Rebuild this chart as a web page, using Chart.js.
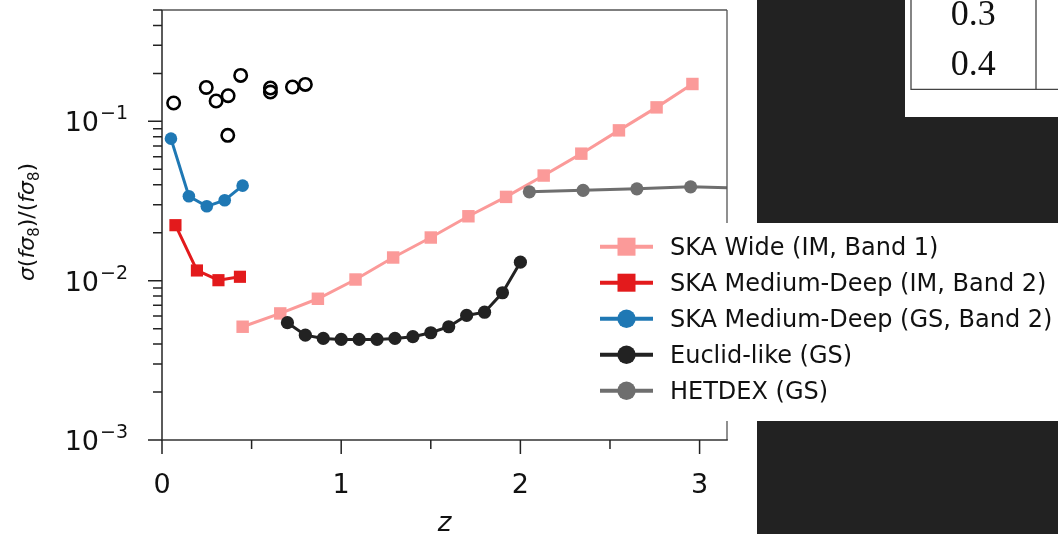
<!DOCTYPE html>
<html>
<head>
<meta charset="utf-8">
<script src="https://cdn.jsdelivr.net/npm/chart.js@4.4.1/dist/chart.umd.min.js"></script>
<style>
  html, body { margin: 0; padding: 0; background: #ffffff; overflow: hidden; }
  #wrap { position: relative; width: 1058px; height: 534px; }
  canvas { display: block; }
</style>
</head>
<body>
<div id="wrap"><canvas id="c" width="1058" height="534"></canvas></div>
<script>
// Forecast fractional errors on f*sigma8 per redshift bin
const skaWideZ   = [0.45, 0.66, 0.87, 1.08, 1.29, 1.50, 1.71, 1.92, 2.13, 2.34, 2.55, 2.76, 2.96];
const skaWideErr = [0.00514, 0.00623, 0.00770, 0.01017, 0.01398, 0.01866, 0.02537, 0.03357, 0.0457, 0.0627, 0.0878, 0.1224, 0.1716];

const skaMdImZ   = [0.075, 0.195, 0.315, 0.435];
const skaMdImErr = [0.0223, 0.01159, 0.01007, 0.01058];

const skaMdGsZ   = [0.05, 0.15, 0.25, 0.35, 0.45];
const skaMdGsErr = [0.0779, 0.0339, 0.0293, 0.0320, 0.0395];

const euclidZ   = [0.7, 0.8, 0.9, 1.0, 1.1, 1.2, 1.3, 1.4, 1.5, 1.6, 1.7, 1.8, 1.9, 2.0];
const euclidErr = [0.00545, 0.00455, 0.00434, 0.00428, 0.00428, 0.00428, 0.00434, 0.00445, 0.00471, 0.00514, 0.00605, 0.00634, 0.00840, 0.01306];

const hetdexZ   = [2.05, 2.35, 2.65, 2.95, 3.25];
const hetdexErr = [0.0361, 0.0369, 0.0377, 0.0388, 0.0381];

// Existing measurements (open circles)
const measZ   = [0.065, 0.247, 0.302, 0.369, 0.367, 0.439, 0.605, 0.605, 0.728, 0.80];
const measErr = [0.1304, 0.1633, 0.1342, 0.1449, 0.0817, 0.1943, 0.1620, 0.1528, 0.1643, 0.1706];

// Axis ticks
const xMajorTicks = [0, 1, 2, 3];
const xTickLabels = ['0', '1', '2', '3'];
const xMinorTicks = [0.5, 1.5, 2.5];
const yMajorTicks = [0.001, 0.01, 0.1];
const yTickExponents = ['\u22123', '\u22122', '\u22121'];
const yMinorTicks = [0.002, 0.003, 0.004, 0.005, 0.006, 0.007, 0.008, 0.009,
                     0.02, 0.03, 0.04, 0.05, 0.06, 0.07, 0.08, 0.09,
                     0.2, 0.3, 0.4, 0.5];

// Values visible in the neighbouring table
const tableValues = ['0.3', '0.4'];

const pts = (zs, vs) => zs.map((z, i) => ({ x: z, y: vs[i] }));

function lineSet(label, zs, vs, color, style, radius, order) {
  return {
    label, data: pts(zs, vs), showLine: true, fill: false, tension: 0,
    borderColor: color, backgroundColor: color, borderWidth: 3,
    pointStyle: style, pointRadius: radius, pointBorderWidth: 0,
    pointBackgroundColor: color, pointBorderColor: color,
    order, inLegend: true
  };
}

const datasets = [
  lineSet('SKA Wide (IM, Band 1)', skaWideZ, skaWideErr, '#fb9a99', 'rect', 8.8, 6),
  lineSet('SKA Medium-Deep (IM, Band 2)', skaMdImZ, skaMdImErr, '#e31a1c', 'rect', 8.6, 5),
  lineSet('SKA Medium-Deep (GS, Band 2)', skaMdGsZ, skaMdGsErr, '#1f78b4', 'circle', 6.3, 4),
  lineSet('Euclid-like (GS)', euclidZ, euclidErr, '#222222', 'circle', 6.6, 3),
  lineSet('HETDEX (GS)', hetdexZ, hetdexErr, '#6e6e6e', 'circle', 6.6, 2),
  {
    label: 'Measurements', data: pts(measZ, measErr), showLine: false,
    pointStyle: 'circle', pointRadius: 6.2, pointBorderWidth: 2.6,
    pointBackgroundColor: 'rgba(0,0,0,0)', pointBorderColor: '#000000',
    borderColor: '#000000', order: 1, inLegend: false
  }
];

function mathFont(kind, size) {
  if (kind === 'it') return 'oblique ' + size + 'px "DejaVu Sans"';
  if (kind === 'sub') return Math.round(size * 0.7) + 'px "DejaVu Sans"';
  return size + 'px "DejaVu Sans"';
}

const decor = {
  id: 'decor',
  afterDraw(chart) {
    const { ctx, chartArea: a, scales: { x, y } } = chart;
    ctx.save();

    // frame
    ctx.lineCap = 'butt';
    ctx.strokeStyle = '#555555';
    ctx.lineWidth = 1.3;
    ctx.beginPath();
    ctx.moveTo(a.left, a.top); ctx.lineTo(a.right, a.top);
    ctx.moveTo(a.right, a.top); ctx.lineTo(a.right, a.bottom);
    ctx.stroke();
    ctx.strokeStyle = '#333333';
    ctx.lineWidth = 1.6;
    ctx.beginPath();
    ctx.moveTo(a.left, a.top); ctx.lineTo(a.left, a.bottom);
    ctx.moveTo(a.left - 0.8, a.bottom); ctx.lineTo(a.right + 0.8, a.bottom);
    ctx.stroke();

    // tick marks
    ctx.strokeStyle = '#222222';
    ctx.lineWidth = 1.5;
    ctx.beginPath();
    yMajorTicks.forEach(v => { const p = y.getPixelForValue(v); ctx.moveTo(a.left - 14, p); ctx.lineTo(a.left, p); });
    yMinorTicks.forEach(v => { const p = y.getPixelForValue(v); ctx.moveTo(a.left - 9, p); ctx.lineTo(a.left, p); });
    xMajorTicks.forEach(v => { const p = x.getPixelForValue(v); ctx.moveTo(p, a.bottom); ctx.lineTo(p, a.bottom + 14); });
    xMinorTicks.forEach(v => { const p = x.getPixelForValue(v); ctx.moveTo(p, a.bottom); ctx.lineTo(p, a.bottom + 9); });
    ctx.stroke();

    // tick labels
    ctx.fillStyle = '#111111';
    ctx.textBaseline = 'alphabetic';
    ctx.font = '27px "DejaVu Sans"';
    ctx.textAlign = 'center';
    xMajorTicks.forEach((v, i) => ctx.fillText(xTickLabels[i], x.getPixelForValue(v), a.bottom + 53));
    ctx.textAlign = 'left';
    yMajorTicks.forEach((v, i) => {
      const p = y.getPixelForValue(v);
      ctx.font = '19px "DejaVu Sans"';
      const we = ctx.measureText(yTickExponents[i]).width;
      ctx.font = '27px "DejaVu Sans"';
      const wb = ctx.measureText('10').width;
      const right = a.left - 34;
      ctx.fillText('10', right - we - wb - 1, p + 10);
      ctx.font = '19px "DejaVu Sans"';
      ctx.fillText(yTickExponents[i], right - we, p - 2);
    });

    // axis titles
    ctx.textAlign = 'center';
    ctx.font = 'oblique 26px "DejaVu Sans"';
    ctx.fillText('z', (a.left + a.right) / 2, 531);

    const parts = [['\u03c3', 'it'], ['(', 'rm'], ['f', 'it'], ['\u03c3', 'it'], ['8', 'sub'], [')', 'rm'],
                   ['/', 'rm'], ['(', 'rm'], ['f', 'it'], ['\u03c3', 'it'], ['8', 'sub'], [')', 'rm']];
    const fs = 22;
    ctx.save();
    ctx.translate(34, (a.top + a.bottom) / 2 - 3);
    ctx.rotate(-Math.PI / 2);
    ctx.textAlign = 'left';
    const widths = parts.map(p => { ctx.font = mathFont(p[1], fs); return ctx.measureText(p[0]).width; });
    let cx = -widths.reduce((s, w) => s + w, 0) / 2;
    parts.forEach((p, i) => {
      ctx.font = mathFont(p[1], fs);
      ctx.fillText(p[0], cx, p[1] === 'sub' ? fs * 0.22 : 0);
      cx += widths[i];
    });
    ctx.restore();

    // legend
    ctx.fillStyle = '#ffffff';
    ctx.fillRect(590, 223, 468, 198);
    const entries = chart.data.datasets.filter(d => d.inLegend);
    entries.forEach((d, i) => {
      const cy = 246.7 + i * 36;
      ctx.strokeStyle = d.borderColor;
      ctx.lineWidth = 4;
      ctx.beginPath(); ctx.moveTo(600, cy); ctx.lineTo(653, cy); ctx.stroke();
      ctx.fillStyle = d.pointBackgroundColor;
      if (d.pointStyle === 'rect') {
        ctx.fillRect(626.5 - 9, cy - 9, 18, 18);
      } else {
        ctx.beginPath(); ctx.arc(626.5, cy, 9.2, 0, Math.PI * 2); ctx.fill();
      }
      ctx.fillStyle = '#111111';
      ctx.font = '24px "DejaVu Sans"';
      ctx.textAlign = 'left';
      ctx.fillText(d.label, 670, cy + 8.6);
    });

    // neighbouring page panels
    ctx.fillStyle = '#222222';
    ctx.fillRect(757, 0, 301, 223);
    ctx.fillRect(757, 421, 301, 113);
    ctx.fillStyle = '#ffffff';
    ctx.fillRect(905, 0, 153, 117);
    ctx.strokeStyle = '#444444';
    ctx.lineWidth = 1.3;
    ctx.beginPath();
    ctx.moveTo(911, 0); ctx.lineTo(911, 89.3);
    ctx.lineTo(1058, 89.3);
    ctx.moveTo(1036, 0); ctx.lineTo(1036, 89.3);
    ctx.stroke();
    ctx.fillStyle = '#111111';
    ctx.font = '36px "Liberation Serif"';
    ctx.textAlign = 'center';
    ctx.fillText(tableValues[0], 973.3, 25);
    ctx.fillText(tableValues[1], 973.3, 75);

    ctx.restore();
  }
};

new Chart(document.getElementById('c'), {
  type: 'line',
  data: { datasets },
  options: {
    responsive: false,
    animation: false,
    events: [],
    layout: { padding: { left: 162, top: 10, right: 331, bottom: 94 } },
    plugins: { legend: { display: false }, tooltip: { enabled: false } },
    scales: {
      x: { type: 'linear', min: 0, max: 3.153, display: false },
      y: { type: 'logarithmic', min: 0.001, max: 0.5, display: false }
    }
  },
  plugins: [decor]
});
</script>
</body>
</html>
